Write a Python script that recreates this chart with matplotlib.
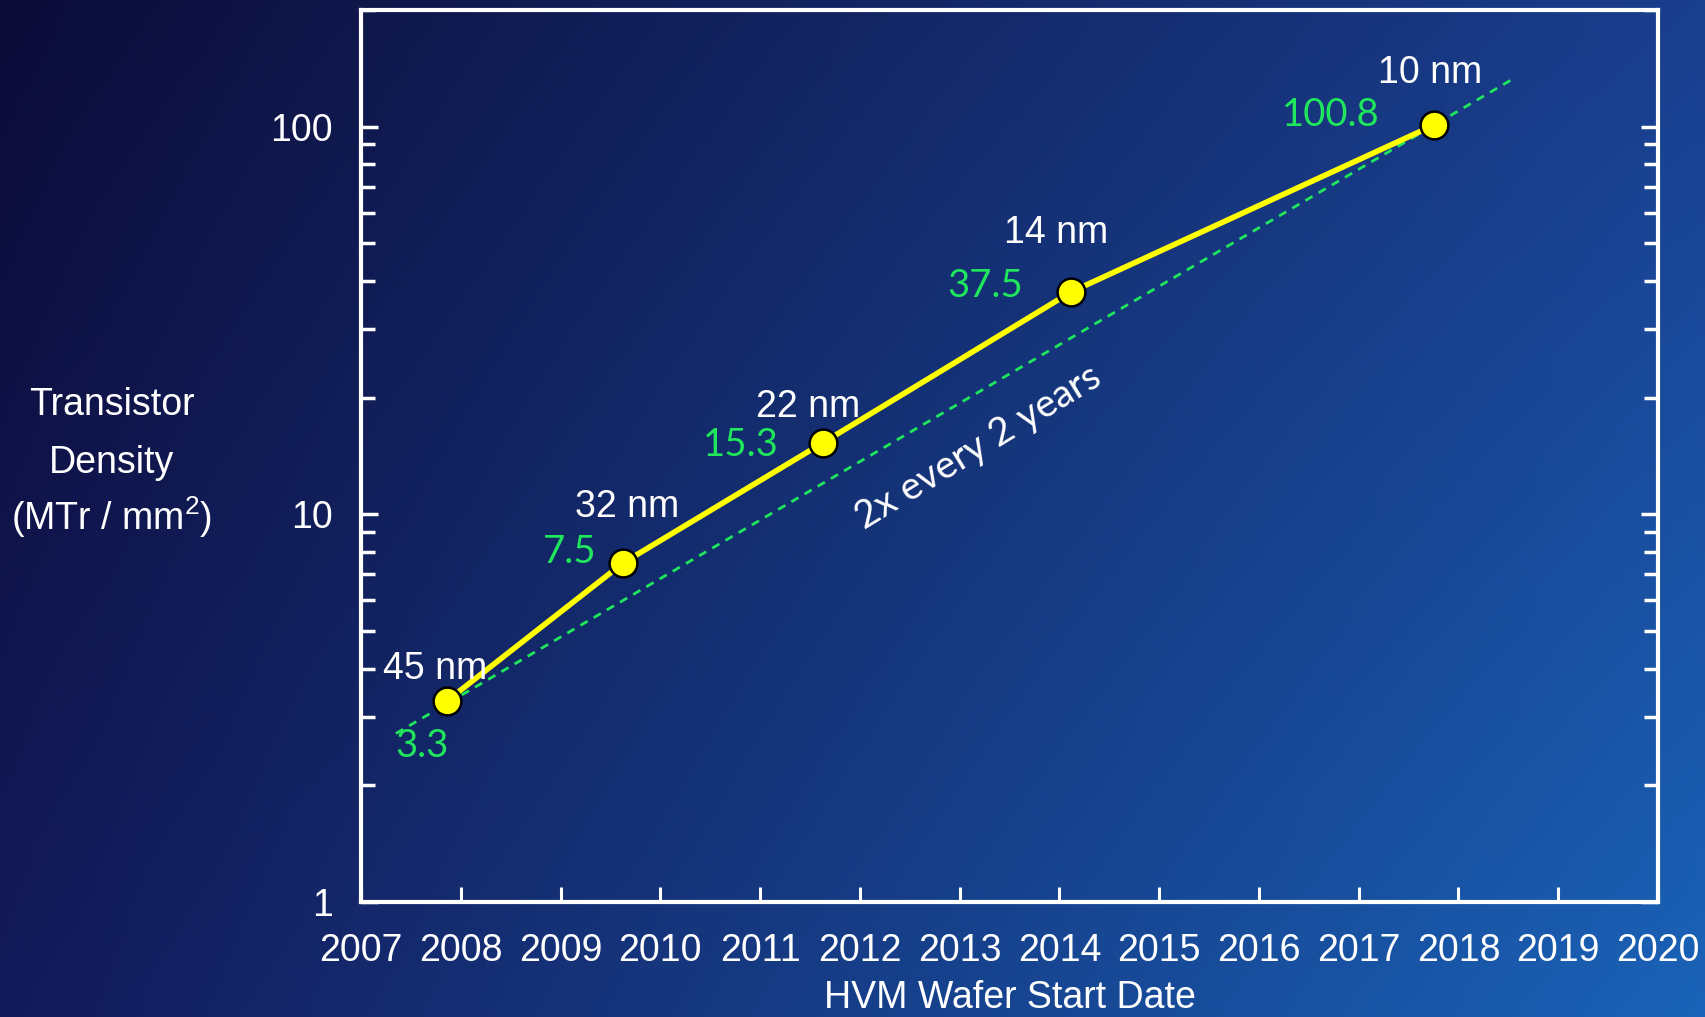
import numpy as np
import matplotlib
matplotlib.use("Agg")
from matplotlib import pyplot as plt
from matplotlib.colors import to_rgb

plt.rcParams['font.family'] = ['Liberation Sans', 'DejaVu Sans']
plt.rcParams['mathtext.fontset'] = 'custom'
plt.rcParams['mathtext.rm'] = 'Liberation Sans'

# data
nodes = ['45 nm', '32 nm', '22 nm', '14 nm', '10 nm']
years = [2007.86, 2009.63, 2011.63, 2014.12, 2017.75]
density = [3.3, 7.5, 15.3, 37.5, 100.8]
density_txt = ['3.3', '7.5', '15.3', '37.5', '100.8']
trend_years = [2007.35, 2018.55]
trend_vals = [2.72, 133.0]
xticks = list(range(2007, 2021))

# label offsets in pixels from each point
node_off = [(-12, 32), (4, 56), (-15, 36), (-15, 59), (-3, 52)]
val_off = [(-25, -45), (-54, 11), (-82, -2), (-86, 6), (-103, 10)]

green = '#1fe65c'

fig = plt.figure(figsize=(17.05, 10.17), dpi=100)

# gradient background
bg = fig.add_axes([0, 0, 1, 1], zorder=-10)
tl, tr = np.array(to_rgb('#0c0c38')), np.array(to_rgb('#1a3e8e'))
bl, br = np.array(to_rgb('#131a5a')), np.array(to_rgb('#1a63b8'))
u = np.linspace(0, 1, 400)[None, :, None]
v = np.linspace(0, 1, 240)[:, None, None]
grad = (1 - v) * ((1 - u) * tl + u * tr) + v * ((1 - u) * bl + u * br)
bg.imshow(grad, aspect='auto', extent=[0, 1, 0, 1], origin='upper')
bg.axis('off')

ax = fig.add_axes([361 / 1705, 1 - 902 / 1017, (1658 - 361) / 1705, (902 - 10) / 1017])
ax.set_facecolor('none')

ax.plot(trend_years, trend_vals, ls=(0, (3, 2.5)), color=green, lw=2, zorder=2)
ax.plot(years, density, color='#ffff00', lw=4, marker='o', ms=20,
        mfc='#ffff00', mec='black', mew=1.8, zorder=3)

for i in range(len(nodes)):
    ax.annotate(nodes[i], (years[i], density[i]), xytext=node_off[i],
                textcoords='offset pixels', ha='center', va='center',
                color='white', fontsize=27)
    ax.annotate(density_txt[i], (years[i], density[i]), xytext=val_off[i],
                textcoords='offset pixels', ha='center', va='center',
                color=green, fontsize=27.5, family=['Lato', 'DejaVu Sans'])

ax.text(2013.19, 14.9, '2x every 2 years', rotation=31.5, ha='center', va='center',
        color='white', fontsize=28, family=['Lato', 'DejaVu Sans'],
        rotation_mode='anchor')

ax.set_yscale('log')
ax.set_ylim(1, 200)
ax.set_xlim(2007, 2020)
ax.set_xticks(xticks)
ax.set_xticklabels([str(y) for y in xticks])
ax.set_yticks([1, 10, 100])
ax.set_yticklabels(['1', '10', '100'])

for s in ax.spines.values():
    s.set_color('white')
    s.set_linewidth(3)

ax.tick_params(axis='x', which='both', direction='in', length=11, width=2.2,
               colors='white', labelsize=27, pad=22, top=False)
ax.tick_params(axis='y', which='major', direction='in', length=12, width=2.5,
               colors='white', labelsize=27, pad=20, right=True)
ax.tick_params(axis='y', which='minor', direction='in', length=10, width=2.5,
               colors='white', right=True)
ax.yaxis.set_minor_formatter(matplotlib.ticker.NullFormatter())

fig.text(1009.5 / 1705, 1 - 998 / 1017, 'HVM Wafer Start Date', ha='center',
         va='center', color='white', fontsize=27)
ylab = ['Transistor', 'Density', '(MTr / mm$^{\\mathrm{2}}$)']
ylab_base = [415, 473, 530]
for t, yb in zip(ylab, ylab_base):
    fig.text(112 / 1705, 1 - yb / 1017, t, ha='center', va='baseline',
             color='white', fontsize=27)

fig.savefig('out.png', dpi=100)
